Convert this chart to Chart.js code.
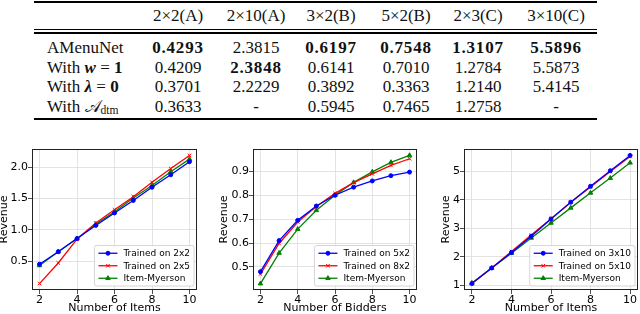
<!DOCTYPE html>
<html><head><meta charset="utf-8">
<script src="https://cdn.jsdelivr.net/npm/chart.js@4.4.0/dist/chart.umd.min.js"></script>
<style>
html,body{margin:0;padding:0;width:640px;height:314px;overflow:hidden;background:#fff;}
#tbl{position:absolute;left:0;top:0;width:640px;height:126px;font-family:"Liberation Serif","Times New Roman",serif;font-size:17px;color:#111;}
.cell{position:absolute;white-space:nowrap;line-height:1;transform:translate(-50%,-50%);}
.lab{position:absolute;white-space:nowrap;line-height:1;transform:translateY(-50%);}
.bold{font-weight:bold;letter-spacing:0.8px;}
.rule{position:absolute;background:#000;left:34px;width:563px;}
sub{font-size:0.68em;vertical-align:-0.25em;line-height:0;}
canvas{position:absolute;}
</style></head><body>
<div id="tbl"></div>
<canvas id="c1" width="215" height="175" style="left:-2px;top:140px"></canvas>
<canvas id="c2" width="212" height="175" style="left:218px;top:140px"></canvas>
<canvas id="c3" width="202" height="175" style="left:440px;top:140px"></canvas>
<script>
// ---------- table data ----------
const tableColumns = ['2×2(A)', '2×10(A)', '3×2(B)', '5×2(B)', '2×3(C)', '3×10(C)'];
const tableRowLabels = ['AMenuNet', 'With <b><i>w</i></b> = <b>1</b>', 'With <b><i>λ</i></b> = <b>0</b>', 'With 𝒜<sub>dtm</sub>'];
const tableValues = [
  ['0.4293', '2.3815', '0.6197', '0.7548', '1.3107', '5.5896'],
  ['0.4209', '2.3848', '0.6141', '0.7010', '1.2784', '5.5873'],
  ['0.3701', '2.2229', '0.3892', '0.3363', '1.2140', '5.4145'],
  ['0.3633', '-', '0.5945', '0.7465', '1.2758', '-']
];
const tableBold = [
  [1, 0, 1, 1, 1, 1],
  [0, 1, 0, 0, 0, 0],
  [0, 0, 0, 0, 0, 0],
  [0, 0, 0, 0, 0, 0]
];

// ---------- chart data ----------
const xItems = [2, 3, 4, 5, 6, 7, 8, 9, 10];
const xBidders = [2, 3, 4, 5, 6, 7, 8, 9, 10];
const xTicks = [2, 4, 6, 8, 10];

const namesA = ['Trained on 2x2', 'Trained on 2x5', 'Item-Myerson'];
const rev2x2 = [0.45, 0.65, 0.86, 1.07, 1.27, 1.47, 1.68, 1.88, 2.09];
const rev2x5 = [0.14, 0.47, 0.85, 1.11, 1.32, 1.53, 1.76, 1.98, 2.19];
const revMyersonA = [0.43, 0.65, 0.86, 1.09, 1.29, 1.51, 1.71, 1.93, 2.13];
const yTicksA = [0.5, 1.0, 1.5, 2.0];

const namesB = ['Trained on 5x2', 'Trained on 8x2', 'Item-Myerson'];
const rev5x2 = [0.48, 0.61, 0.695, 0.755, 0.80, 0.834, 0.86, 0.882, 0.897];
const rev8x2 = [0.47, 0.598, 0.688, 0.753, 0.808, 0.853, 0.89, 0.925, 0.953];
const revMyersonB = [0.43, 0.558, 0.658, 0.737, 0.80, 0.854, 0.898, 0.938, 0.967];
const yTicksB = [0.5, 0.6, 0.7, 0.8, 0.9];

const namesC = ['Trained on 3x10', 'Trained on 5x10', 'Item-Myerson'];
const rev3x10 = [1.05, 1.60, 2.15, 2.72, 3.33, 3.92, 4.48, 5.03, 5.57];
const rev5x10 = [1.05, 1.60, 2.18, 2.76, 3.34, 3.92, 4.46, 5.00, 5.53];
const revMyersonC = [1.07, 1.60, 2.12, 2.66, 3.19, 3.72, 4.25, 4.77, 5.31];
const yTicksC = [1, 2, 3, 4, 5];

// ---------- table rendering ----------
(function () {
  const tbl = document.getElementById('tbl');
  const colX = [178, 256, 331, 406, 478, 556];
  const headY = 15, rowY = [47, 67, 86, 106], labX = 47;
  const add = (cls, html, x, y) => {
    const d = document.createElement('div');
    d.className = cls; d.innerHTML = html;
    d.style.left = x + 'px'; d.style.top = y + 'px';
    tbl.appendChild(d);
  };
  tableColumns.forEach((c, j) => add('cell', c, colX[j], headY));
  tableRowLabels.forEach((l, i) => {
    add('lab', l, labX, rowY[i]);
    tableValues[i].forEach((v, j) => add('cell' + (tableBold[i][j] ? ' bold' : ''), v, colX[j], rowY[i]));
  });
  const rule = (y, h) => {
    const d = document.createElement('div');
    d.className = 'rule'; d.style.top = y + 'px'; d.style.height = h + 'px';
    tbl.appendChild(d);
  };
  rule(1, 1.5); rule(29.3, 1.2); rule(32.4, 1.2); rule(118.4, 1.6);
})();

// ---------- charts ----------
const FONT = '"DejaVu Sans", sans-serif';

const framePlugin = {
  id: 'frame',
  afterDatasetsDraw(chart) {
    const a = chart.chartArea, ctx = chart.ctx;
    ctx.save();
    ctx.strokeStyle = '#222'; ctx.lineWidth = 1;
    ctx.strokeRect(Math.round(a.left) + 0.5, Math.round(a.top) + 0.5, Math.round(a.right - a.left) - 1, Math.round(a.bottom - a.top) - 1);
    // legend
    ctx.font = '9px ' + FONT;
    const items = chart.data.datasets;
    const tw = Math.max(...items.map(d => ctx.measureText(d.label).width));
    const pad = 4, hl = 19, gap = 6, rowH = 12.5;
    const w = pad + hl + gap + tw + pad, h = rowH * items.length + 3;
    const x = a.right - 3 - w, y = a.bottom - 4 - h;
    ctx.beginPath();
    ctx.roundRect(x, y, w, h, 2);
    ctx.fillStyle = 'rgba(255,255,255,0.85)'; ctx.fill();
    ctx.strokeStyle = '#cccccc'; ctx.lineWidth = 0.8; ctx.stroke();
    items.forEach((d, i) => {
      const cy = y + 1.5 + rowH * (i + 0.5);
      ctx.strokeStyle = d.borderColor; ctx.lineWidth = d.borderWidth;
      ctx.beginPath(); ctx.moveTo(x + pad, cy); ctx.lineTo(x + pad + hl, cy); ctx.stroke();
      ctx.fillStyle = d.pointBackgroundColor; ctx.strokeStyle = d.pointBorderColor; ctx.lineWidth = 1;
      Chart.helpers.drawPoint(ctx, { pointStyle: d.pointStyle, radius: d.pointRadius, borderWidth: 1, rotation: 0 }, x + pad + hl / 2, cy);
      ctx.fillStyle = '#000'; ctx.textBaseline = 'middle'; ctx.textAlign = 'left';
      ctx.fillText(d.label, x + pad + hl + gap, cy + 0.5);
    });
    ctx.restore();
  }
};

const STYLES = [
  { color: 'rgb(0,0,255)', pointStyle: 'circle', radius: 2 },
  { color: 'rgb(255,0,0)', pointStyle: 'crossRot', radius: 2.5 },
  { color: 'rgb(0,128,0)', pointStyle: 'triangle', radius: 2.6 }
];

function makeChart(id, xs, series, names, yTicks, yFmt, xTitle, axisW, padRight) {
  const all = series.flat();
  const lo = Math.min(...all), hi = Math.max(...all), r = hi - lo;
  const datasets = series.map((ys, k) => ({
    label: names[k],
    data: xs.map((x, i) => ({ x: x, y: ys[i] })),
    borderColor: STYLES[k].color,
    backgroundColor: STYLES[k].color,
    pointBackgroundColor: STYLES[k].color,
    pointBorderColor: STYLES[k].color,
    pointStyle: STYLES[k].pointStyle,
    pointRadius: STYLES[k].radius,
    pointBorderWidth: 1,
    borderWidth: 1.3,
    tension: 0,
    clip: 4
  }));
  const grid = { color: '#dcdcdc', lineWidth: 0.8, tickColor: '#222', tickLength: 4, drawTicks: true };
  return new Chart(document.getElementById(id), {
    type: 'line',
    data: { datasets },
    options: {
      responsive: false,
      animation: false,
      devicePixelRatio: 1,
      layout: { padding: { top: 9, right: padRight, left: 0, bottom: 0 }, autoPadding: false },
      plugins: { legend: { display: false }, tooltip: { enabled: false } },
      scales: {
        x: {
          type: 'linear', min: 1.6, max: 10.4,
          afterBuildTicks: s => { s.ticks = xTicks.map(v => ({ value: v })); },
          afterFit: s => { s.height = 25; },
          grid, border: { display: false },
          ticks: { color: '#000', font: { family: FONT, size: 11 }, padding: 0, maxRotation: 0, callback: v => String(v) },
          title: { display: true, text: xTitle, color: '#000', font: { family: FONT, size: 11 }, padding: 0 }
        },
        y: {
          type: 'linear', min: lo - 0.05 * r, max: hi + 0.05 * r,
          afterBuildTicks: s => { s.ticks = yTicks.map(v => ({ value: v })); },
          afterFit: s => { s.width = axisW; },
          grid, border: { display: false },
          ticks: { color: '#000', font: { family: FONT, size: 11 }, padding: 0, callback: yFmt },
          title: { display: true, text: 'Revenue', color: '#000', font: { family: FONT, size: 11 }, padding: 0 }
        }
      }
    },
    plugins: [framePlugin]
  });
}

makeChart('c1', xItems, [rev2x2, rev2x5, revMyersonA], namesA, yTicksA, v => v.toFixed(1), 'Number of Items', 34, 16);
makeChart('c2', xBidders, [rev5x2, rev8x2, revMyersonB], namesB, yTicksB, v => v.toFixed(1), 'Number of Bidders', 35, 13);
makeChart('c3', xItems, [rev3x10, rev5x10, revMyersonC], namesC, yTicksC, v => String(v), 'Number of Items', 24, 4);
</script>
</body></html>
